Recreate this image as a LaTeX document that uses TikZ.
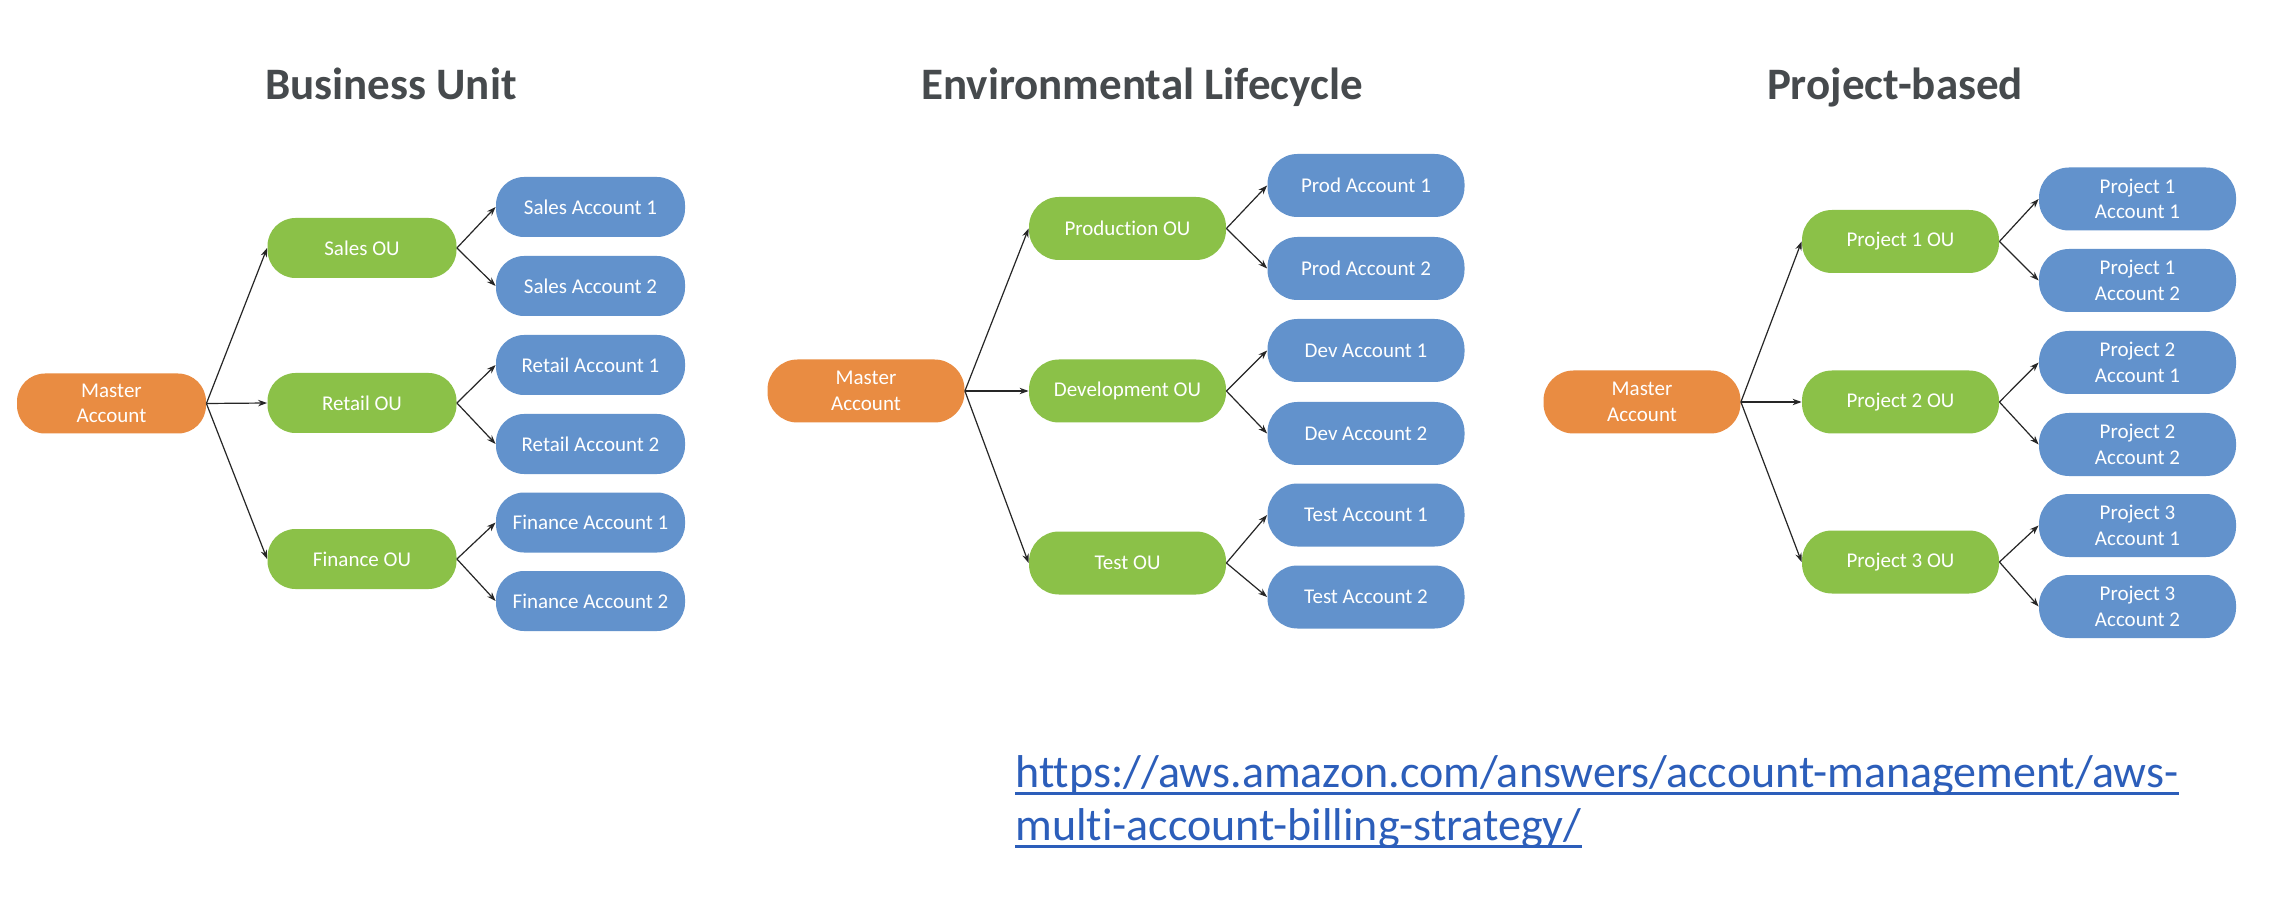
\documentclass[tikz,border=0pt]{standalone}
\usepackage{fontspec}
\setmainfont{Carlito}[Ligatures=NoCommon]
\usetikzlibrary{arrows.meta}
\definecolor{mstfill}{RGB}{233,140,66}
\definecolor{oufill}{RGB}{139,193,72}
\definecolor{accfill}{RGB}{98,146,204}
\definecolor{titlegray}{RGB}{70,74,77}
\definecolor{linkblue}{RGB}{44,94,186}
\tikzset{
  box/.style={inner sep=0pt, text=white, align=center,
    font=\fontsize{10.5}{12.8}\selectfont},
  bu/.style={box, rounded corners=14pt, minimum width=94.5pt, minimum height=30pt},
  el/.style={box, rounded corners=15pt, minimum width=98.5pt, minimum height=31.5pt},
  mst/.style={fill=mstfill},
  ou/.style={fill=oufill},
  acc/.style={fill=accfill},
  conn/.style={draw=black!85, line width=0.6pt, -{Stealth[length=4.5pt,width=3.2pt]}},
  ttl/.style={anchor=base, text=titlegray, font=\fontsize{22.5}{27}\selectfont\bfseries},
  url/.style={anchor=base west, inner sep=0pt, text=linkblue, font=\fontsize{23}{27.5}\selectfont},
  uline/.style={draw=linkblue, line width=1.4pt}
}
\begin{document}
\begin{tikzpicture}[x=0.5pt,y=-0.5pt]
\fill[white] (0,0) rectangle (2294,908);
\useasboundingbox (0,0) rectangle (2294,908);

% titles
\node[ttl] (t1) at (391,100) {Business Unit};
\node[ttl] (t2) at (1142,100) {Environmental Lifecycle};
\node[ttl] (t3) at (1895,100) {Project-based};

% ---------- Business Unit ----------
\node[bu, mst] (bm) at (111.5,403.5) {Master\\Account};
\node[bu, ou] (bo1) at (362,248) {Sales OU};
\node[bu, ou] (bo2) at (362,403) {Retail OU};
\node[bu, ou] (bo3) at (362,559) {Finance OU};
\node[bu, acc] (ba1) at (590.5,207) {Sales Account 1};
\node[bu, acc] (ba2) at (590.5,286) {Sales Account 2};
\node[bu, acc] (ba3) at (590.5,365) {Retail Account 1};
\node[bu, acc] (ba4) at (590.5,444) {Retail Account 2};
\node[bu, acc] (ba5) at (590.5,522.5) {Finance Account 1};
\node[bu, acc] (ba6) at (590.5,601) {Finance Account 2};
\foreach \o in {bo1,bo2,bo3} \draw[conn] (bm.east) -- (\o.west);
\draw[conn] (bo1.east) -- (ba1.west);
\draw[conn] (bo1.east) -- (ba2.west);
\draw[conn] (bo2.east) -- (ba3.west);
\draw[conn] (bo2.east) -- (ba4.west);
\draw[conn] (bo3.east) -- (ba5.west);
\draw[conn] (bo3.east) -- (ba6.west);

% ---------- Environmental Lifecycle ----------
\node[el, mst] (em) at (866,391) {Master\\Account};
\node[el, ou] (eo1) at (1127.5,228.5) {Production OU};
\node[el, ou] (eo2) at (1127.5,391) {Development OU};
\node[el, ou] (eo3) at (1127.5,563) {Test OU};
\node[el, acc] (ea1) at (1366,185.5) {Prod Account 1};
\node[el, acc] (ea2) at (1366,268.5) {Prod Account 2};
\node[el, acc] (ea3) at (1366,350.5) {Dev Account 1};
\node[el, acc] (ea4) at (1366,433.5) {Dev Account 2};
\node[el, acc] (ea5) at (1366,515) {Test Account 1};
\node[el, acc] (ea6) at (1366,597) {Test Account 2};
\foreach \o in {eo1,eo2,eo3} \draw[conn] (em.east) -- (\o.west);
\draw[conn] (eo1.east) -- (ea1.west);
\draw[conn] (eo1.east) -- (ea2.west);
\draw[conn] (eo2.east) -- (ea3.west);
\draw[conn] (eo2.east) -- (ea4.west);
\draw[conn] (eo3.east) -- (ea5.west);
\draw[conn] (eo3.east) -- (ea6.west);

% ---------- Project-based ----------
\node[el, mst] (pm) at (1642,402) {Master\\Account};
\node[el, ou] (po1) at (1900.5,241.5) {Project 1 OU};
\node[el, ou] (po2) at (1900.5,402) {Project 2 OU};
\node[el, ou] (po3) at (1900.5,562) {Project 3 OU};
\node[el, acc] (pa1) at (2137.5,199) {Project 1\\Account 1};
\node[el, acc] (pa2) at (2137.5,280.5) {Project 1\\Account 2};
\node[el, acc] (pa3) at (2137.5,362.5) {Project 2\\Account 1};
\node[el, acc] (pa4) at (2137.5,444.5) {Project 2\\Account 2};
\node[el, acc] (pa5) at (2137.5,525.5) {Project 3\\Account 1};
\node[el, acc] (pa6) at (2137.5,606.5) {Project 3\\Account 2};
\foreach \o in {po1,po2,po3} \draw[conn] (pm.east) -- (\o.west);
\draw[conn] (po1.east) -- (pa1.west);
\draw[conn] (po1.east) -- (pa2.west);
\draw[conn] (po2.east) -- (pa3.west);
\draw[conn] (po2.east) -- (pa4.west);
\draw[conn] (po3.east) -- (pa5.west);
\draw[conn] (po3.east) -- (pa6.west);

% ---------- URL ----------
\node[url] (u1) at (1015,787) {https://aws.amazon.com/answers/account-management/aws-};
\node[url] (u2) at (1015,840) {multi-account-billing-strategy/};
\draw[uline] ([yshift=-3.2pt]u1.base west) -- ([yshift=-3.2pt]u1.base east);
\draw[uline] ([yshift=-3.2pt]u2.base west) -- ([yshift=-3.2pt]u2.base east);
\end{tikzpicture}
\end{document}
